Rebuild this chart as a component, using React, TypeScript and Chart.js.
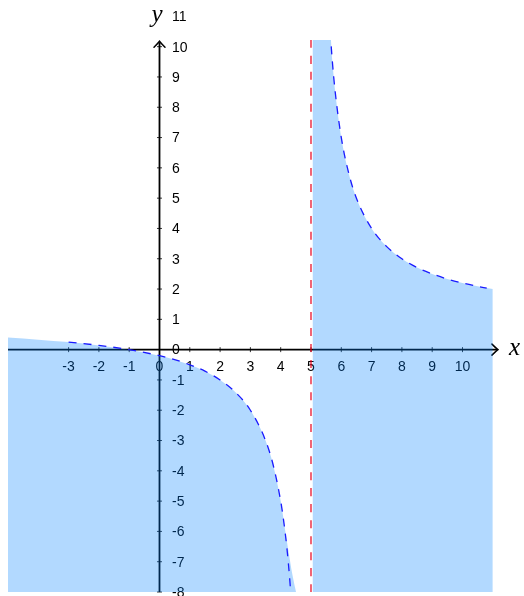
import { useEffect, useRef } from "react";
import { Chart, registerables } from "chart.js";

Chart.register(...registerables);

// ---- data ----
const xTickValues = [-3, -2, -1, 0, 1, 2, 3, 4, 5, 6, 7, 8, 9, 10];
const yTickValues = [-8, -7, -6, -5, -4, -3, -2, -1, 0, 1, 2, 3, 4, 5, 6, 7, 8, 9, 10, 11];

// dashed boundary curve, left branch
const curveLeftX = [-3, -2, -1, 0, 0.5, 1, 1.5, 2, 2.5, 3, 3.5, 3.75, 4, 4.1, 4.2, 4.3, 4.35];
const curveLeftY = [0.25, 0.14, 0, -0.2, -0.33, -0.5, -0.71, -1, -1.4, -2, -3, -3.8, -5, -5.67, -6.5, -7.6, -8.3];

// dashed boundary curve, right branch
const curveRightX = [5.6, 5.7, 5.8, 6, 6.25, 6.5, 7, 7.5, 8, 8.5, 9, 9.5, 10, 10.5, 10.8];
const curveRightY = [11, 9.57, 8.5, 7, 5.8, 5, 4, 3.4, 3, 2.71, 2.5, 2.33, 2.2, 2.09, 2.03];

// shaded region edge, left part
const fillLeftX = [-5, -4, -3, -2, -1, 0, 0.5, 1, 1.5, 2, 2.5, 3, 3.5, 3.75, 4, 4.2, 4.4, 4.55];
const fillLeftY = [0.4, 0.33, 0.25, 0.14, 0, -0.2, -0.33, -0.5, -0.71, -1, -1.4, -2, -3, -3.8, -5, -6.3, -7.5, -8.2];

// shaded region edge, right part
const fillRightX = [5.05, 5.6, 5.7, 5.8, 6, 6.25, 6.5, 7, 7.5, 8, 8.5, 9, 9.5, 10, 10.5, 11];
const fillRightY = [12, 11, 9.57, 8.5, 7, 5.8, 5, 4, 3.4, 3, 2.71, 2.5, 2.33, 2.2, 2.09, 2];

// vertical asymptote
const asymptoteX = [5, 5];
const asymptoteY = [-8, 10.22];

const X_MIN = -5;
const X_MAX = 11.766;
const Y_MIN = -8;
const Y_MAX = 10.22;
const X_ARROW = 11.17;
const Y_ARROW = 10.18;

const toPts = (xs: number[], ys: number[]) => xs.map((x, i) => ({ x, y: ys[i] }));

const FILL = "rgba(0,128,255,0.3)";
const CURVE = "#1a1aff";

const axesPlugin = {
  id: "mathAxes",
  beforeDatasetsDraw(chart: any) {
    const ctx = chart.ctx as CanvasRenderingContext2D;
    const xs = chart.scales.x;
    const ys = chart.scales.y;
    const ox = xs.getPixelForValue(0);
    const oy = ys.getPixelForValue(0);
    const left = chart.chartArea.left;
    const bottom = chart.chartArea.bottom;
    const xEnd = xs.getPixelForValue(X_ARROW);
    const yEnd = ys.getPixelForValue(Y_ARROW);
    ctx.save();
    ctx.strokeStyle = "#000";
    ctx.lineWidth = 1.8;
    ctx.lineCap = "butt";
    ctx.beginPath();
    ctx.moveTo(left, oy);
    ctx.lineTo(xEnd - 1, oy);
    ctx.moveTo(ox, bottom);
    ctx.lineTo(ox, yEnd + 1);
    ctx.stroke();
    // arrow heads
    ctx.lineWidth = 1.5;
    ctx.lineCap = "round";
    ctx.beginPath();
    ctx.moveTo(xEnd - 6, oy - 5.5);
    ctx.quadraticCurveTo(xEnd - 2, oy - 1.5, xEnd, oy);
    ctx.quadraticCurveTo(xEnd - 2, oy + 1.5, xEnd - 6, oy + 5.5);
    ctx.moveTo(ox - 5.5, yEnd + 6);
    ctx.quadraticCurveTo(ox - 1.5, yEnd + 2, ox, yEnd);
    ctx.quadraticCurveTo(ox + 1.5, yEnd + 2, ox + 5.5, yEnd + 6);
    ctx.stroke();
    // tick marks
    ctx.lineWidth = 0.8;
    ctx.lineCap = "butt";
    ctx.beginPath();
    xTickValues.forEach((v) => {
      if (v === 0) return;
      const px = xs.getPixelForValue(v);
      ctx.moveTo(px, oy - 2.5);
      ctx.lineTo(px, oy + 2.5);
    });
    yTickValues.forEach((v) => {
      if (v === 0 || v > Y_ARROW) return;
      const py = ys.getPixelForValue(v);
      ctx.moveTo(ox - 2.5, py);
      ctx.lineTo(ox + 2.5, py);
    });
    ctx.stroke();
    // tick labels
    ctx.fillStyle = "#000";
    ctx.font = '14px "Liberation Sans", Arial, sans-serif';
    ctx.textAlign = "center";
    ctx.textBaseline = "middle";
    xTickValues.forEach((v) => {
      ctx.fillText(String(v), xs.getPixelForValue(v), oy + 18);
    });
    ctx.textAlign = "left";
    yTickValues.forEach((v) => {
      ctx.fillText(String(v), ox + 12.5, ys.getPixelForValue(v) + 1);
    });
    ctx.restore();
  },
  afterDraw(chart: any) {
    const ctx = chart.ctx as CanvasRenderingContext2D;
    const xs = chart.scales.x;
    const ys = chart.scales.y;
    const ox = xs.getPixelForValue(0);
    const oy = ys.getPixelForValue(0);
    const xEnd = xs.getPixelForValue(X_ARROW);
    const yEnd = ys.getPixelForValue(Y_ARROW);
    ctx.save();
    ctx.fillStyle = "#000";
    ctx.font = 'italic 25px "Liberation Serif", "DejaVu Serif", serif';
    ctx.textAlign = "left";
    ctx.textBaseline = "alphabetic";
    ctx.fillText("x", xEnd + 11, oy + 5.5);
    ctx.fillText("y", ox - 8, yEnd - 19);
    ctx.restore();
  },
};

export default function App() {
  const ref = useRef<HTMLCanvasElement | null>(null);
  useEffect(() => {
    document.documentElement.style.overflow = "hidden";
    document.body.style.margin = "0";
    document.body.style.overflow = "hidden";
    const canvas = ref.current;
    if (!canvas) return;
    const common = { pointRadius: 0, pointHoverRadius: 0, cubicInterpolationMode: "monotone" as const };
    const chart = new Chart(canvas, {
      type: "line",
      data: {
        datasets: [
          {
            ...common,
            data: toPts(curveLeftX, curveLeftY),
            borderColor: CURVE,
            borderWidth: 1.3,
            borderDash: [8, 7],
            fill: false,
            order: 0,
          },
          {
            ...common,
            data: toPts(curveRightX, curveRightY),
            borderColor: CURVE,
            borderWidth: 1.3,
            borderDash: [8, 7],
            fill: false,
            order: 0,
          },
          {
            ...common,
            data: toPts(asymptoteX, asymptoteY),
            borderColor: "#e8001c",
            borderWidth: 1.2,
            borderDash: [8, 8],
            fill: false,
            order: 0,
          },
          {
            ...common,
            data: toPts(fillLeftX, fillLeftY),
            borderWidth: 0,
            borderColor: "rgba(0,0,0,0)",
            backgroundColor: FILL,
            fill: "start",
            order: 1,
          },
          {
            ...common,
            data: toPts(fillRightX, fillRightY),
            borderWidth: 0,
            borderColor: "rgba(0,0,0,0)",
            backgroundColor: FILL,
            fill: "start",
            order: 1,
          },
        ],
      },
      options: {
        animation: false,
        responsive: false,
        events: [],
        layout: { padding: { left: 0, right: 8, top: 32, bottom: 4 } },
        plugins: { legend: { display: false }, tooltip: { enabled: false }, title: { display: false } },
        scales: {
          x: { type: "linear", min: X_MIN, max: X_MAX, display: false },
          y: { type: "linear", min: Y_MIN, max: Y_MAX, display: false },
        },
      },
      plugins: [axesPlugin],
    });
    return () => chart.destroy();
  }, []);
  return (
    <div style={{ width: 524, height: 596, paddingLeft: 8, paddingTop: 8, boxSizing: "border-box" }}>
      <canvas ref={ref} width={516} height={588} style={{ display: "block" }} />
    </div>
  );
}
